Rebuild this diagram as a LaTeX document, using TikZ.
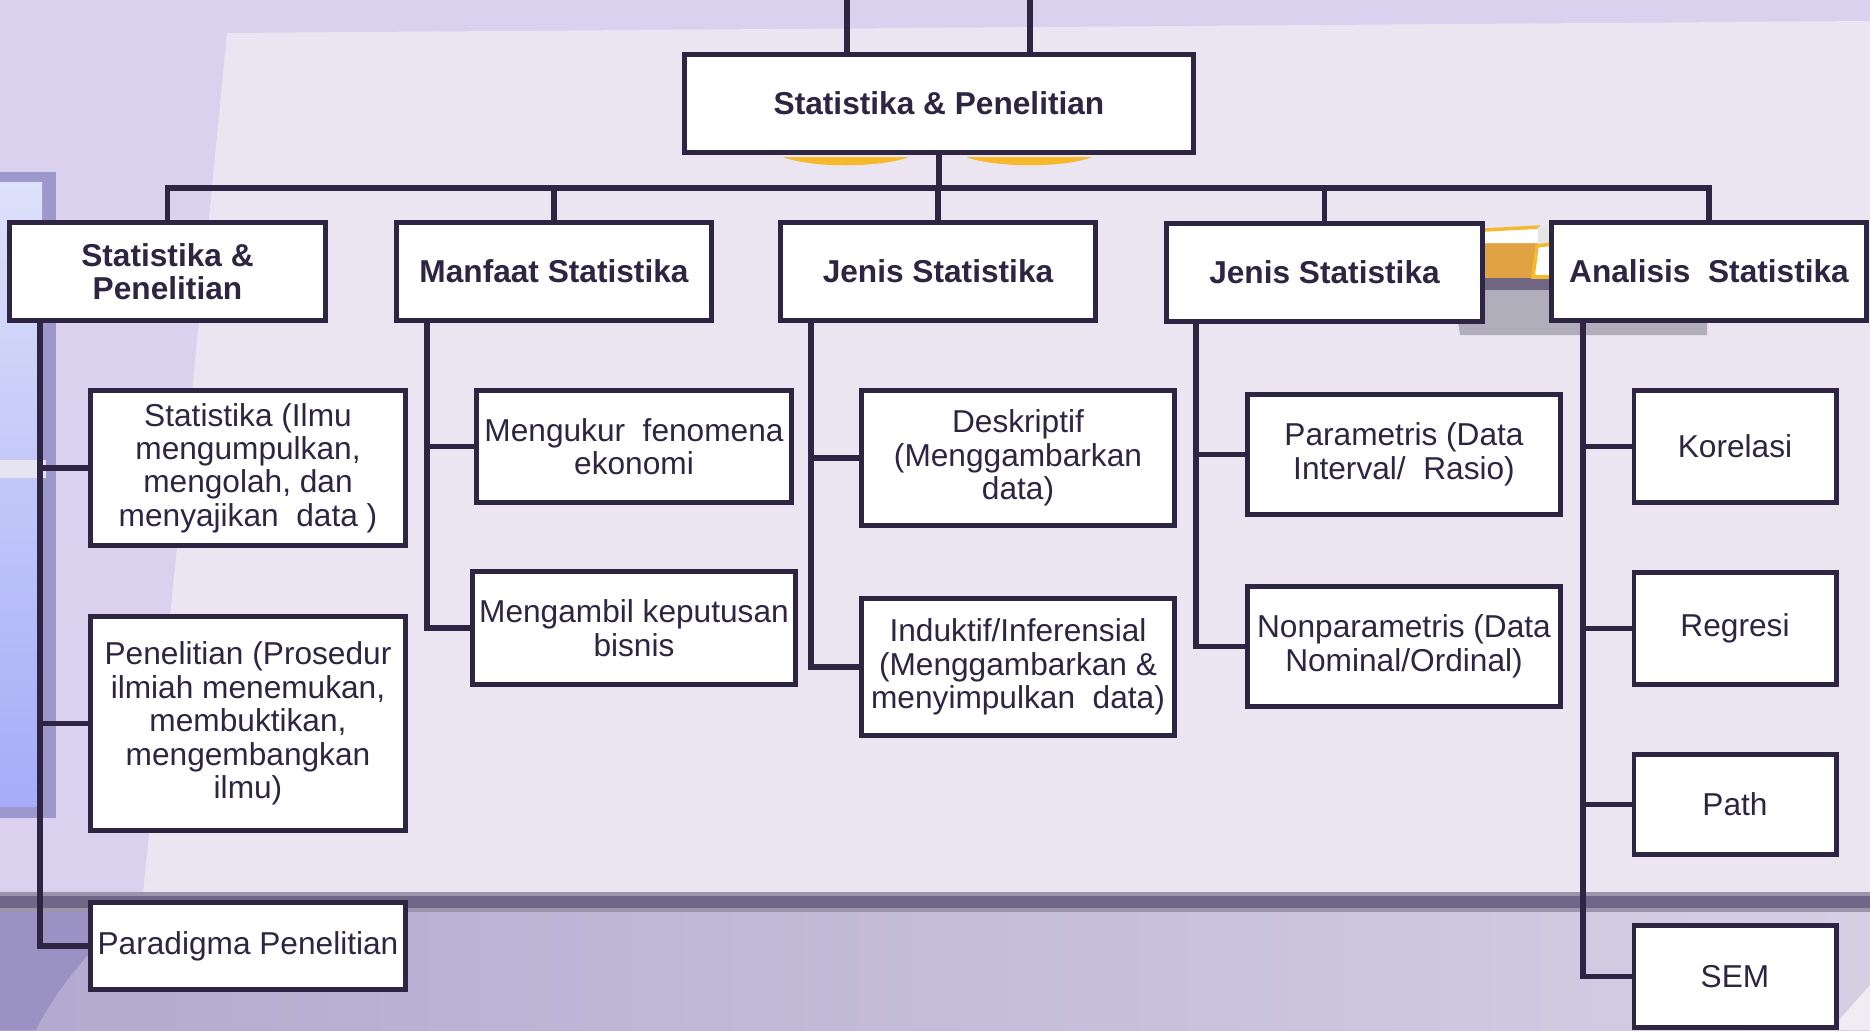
\documentclass[tikz,border=0pt]{standalone}
\usepackage{fontspec}
\setmainfont{Liberation Sans}
\usepackage{xcolor}
\usetikzlibrary{positioning}

\definecolor{bgtop}{HTML}{D9D1EE}
\definecolor{bgmain}{HTML}{EAE5F1}
\definecolor{bandcol}{HTML}{6F6787}
\definecolor{botleft}{HTML}{B2AACE}
\definecolor{botright}{HTML}{D6CFE4}
\definecolor{botdark}{HTML}{9A92C2}
\definecolor{panelout}{HTML}{9C98CC}
\definecolor{paneltop}{HTML}{DDE1FA}
\definecolor{panelbot}{HTML}{A6ACF8}
\definecolor{inkcol}{HTML}{2D2541}
\definecolor{goldcol}{HTML}{F6B92E}
\definecolor{ambercol}{HTML}{E1A244}
\definecolor{shadowcol}{HTML}{B1AEBB}
\definecolor{ledgecol}{HTML}{716681}

\begin{document}
\begin{tikzpicture}[x=0.01cm, y=-0.01cm,
    box/.style={draw=inkcol, line width=1.4pt, fill=white, text=inkcol, align=center, inner sep=2pt, font=\fontsize{9}{9.5}\selectfont},
    head/.style={box, minimum width=3.15cm, minimum height=0.98cm, font=\fontsize{9}{9.5}\selectfont\bfseries},
    link/.style={draw=inkcol, line width=1.6pt}]
    \useasboundingbox (0,0) rectangle (1870,1030);

    % background
    \fill[bgtop] (0,0) rectangle (1870,1030);
    \fill[bgmain] (227,33) -- (1870,21) -- (1870,895) -- (143,895) -- cycle;
    \shade[left color=botleft, right color=botright] (0,907) rectangle (1870,1030);
    \fill[botdark] (0,907) -- (134,907) .. controls (90,950) and (55,990) .. (36,1030) -- (0,1030) -- cycle;
    \fill[white!60!botright] (1870,985) -- (1870,1030) -- (1830,1030) -- cycle;
    \fill[bandcol!70!white] (0,892) rectangle (1870,912);
    \fill[bandcol] (0,896) rectangle (1870,908);

    % left panel
    \fill[panelout] (0,172) rectangle (56,818);
    \shade[top color=paneltop, bottom color=panelbot] (0,182) rectangle (42,806);
    \fill[white!75!panelout] (0,460) rectangle (46,478);

    % gold bits
    \fill[goldcol] (783,157) .. controls (810,168) and (880,168) .. (909,157) -- cycle;
    \fill[goldcol] (966,157) .. controls (995,168) and (1065,168) .. (1092,157) -- cycle;
    \fill[shadowcol] (1453,288) -- (1707,288) -- (1707,335) -- (1460,335) -- cycle;
    \fill[ledgecol] (1485,277) rectangle (1552,290);
    \fill[ambercol] (1485,242) rectangle (1540,278);
    \fill[white] (1485,230) -- (1540,227) -- (1540,243) -- (1485,243) -- cycle;
    \draw[goldcol, line width=1pt] (1485,230) -- (1540,227);
    \fill[gray!20] (1538,227) rectangle (1552,246);
    \filldraw[fill=white, draw=goldcol, line width=1pt] (1537,246) -- (1552,244) -- (1552,277) -- (1533,277) -- cycle;

    % nodes
    \node[box, minimum width=5.09cm, minimum height=0.98cm, font=\fontsize{9}{9.5}\selectfont\bfseries] (top) at (939,103.5) {Statistika \& Penelitian};

    \node[head] (A) at (167.5,271.5) {Statistika \&\\Penelitian};
    \node[head] (B) at (554,271.5) {Manfaat Statistika};
    \node[head] (C) at (938,271.5) {Jenis Statistika};
    \node[head] (D) at (1324.5,272.5) {Jenis Statistika};
    \node[head] (E) at (1709,271.5) {Analisis~ Statistika};

    \node[box, minimum width=3.15cm, minimum height=1.55cm] (A1) at (248,468) {Statistika (Ilmu\\mengumpulkan,\\mengolah, dan\\menyajikan~ data )};
    \node[box, minimum width=3.15cm, minimum height=2.14cm] (A2) at (248,723.5) {Penelitian (Prosedur\\ilmiah menemukan,\\membuktikan,\\mengembangkan\\ilmu)};
    \node[box, minimum width=3.15cm, minimum height=0.87cm] (A3) at (248,946) {Paradigma Penelitian};

    \node[box, minimum width=3.15cm, minimum height=1.12cm] (B1) at (634,446.5) {Mengukur~ fenomena\\ekonomi};
    \node[box, minimum width=3.15cm, minimum height=1.13cm] (B2) at (634,628) {Mengambil keputusan\\bisnis};

    \node[box, minimum width=3.13cm, minimum height=1.35cm] (C1) at (1018,458) {Deskriptif\\(Menggambarkan\\data)};
    \node[box, minimum width=3.13cm, minimum height=1.37cm] (C2) at (1018,667) {Induktif/Inferensial\\(Menggambarkan \&\\menyimpulkan~ data)};

    \node[box, minimum width=3.13cm, minimum height=1.20cm] (D1) at (1404,454.5) {Parametris (Data\\Interval/~ Rasio)};
    \node[box, minimum width=3.13cm, minimum height=1.20cm] (D2) at (1404,646.5) {Nonparametris (Data\\Nominal/Ordinal)};

    \node[box, minimum width=2.02cm, minimum height=1.12cm] (E1) at (1735,446.5) {Korelasi};
    \node[box, minimum width=2.02cm, minimum height=1.12cm] (E2) at (1735,628.5) {Regresi};
    \node[box, minimum width=2.02cm, minimum height=1.00cm] (E3) at (1735,804.5) {Path};
    \node[box, minimum width=2.02cm, minimum height=1.02cm] (E4) at (1735,976.5) {SEM};

    % connectors
    \coordinate (in1) at (847,0);
    \coordinate (in2) at (1030,0);
    \coordinate (bus) at (0,188);
    \coordinate (tA) at (40,0);
    \coordinate (tB) at (427,0);
    \coordinate (tC) at (811,0);
    \coordinate (tD) at (1196,0);
    \coordinate (tE) at (1583,0);

    \draw[link] (in1) -- (in1 |- top.north);
    \draw[link] (in2) -- (in2 |- top.north);
    \draw[link] (top.south) -- (top.south |- bus);
    \draw[link] (A.north) -- (A.north |- bus) -- (E.north |- bus) -- (E.north);
    \draw[link] (B.north) -- (B.north |- bus);
    \draw[link] (C.north) -- (C.north |- bus);
    \draw[link] (D.north) -- (D.north |- bus);

    \draw[link] (tA |- A.south) |- (A1.west);
    \draw[link] (tA |- A.south) |- (A2.west);
    \draw[link] (tA |- A.south) |- (A3.west);
    \draw[link] (tB |- B.south) |- (B1.west);
    \draw[link] (tB |- B.south) |- (B2.west);
    \draw[link] (tC |- C.south) |- (C1.west);
    \draw[link] (tC |- C.south) |- (C2.west);
    \draw[link] (tD |- D.south) |- (D1.west);
    \draw[link] (tD |- D.south) |- (D2.west);
    \draw[link] (tE |- E.south) |- (E1.west);
    \draw[link] (tE |- E.south) |- (E2.west);
    \draw[link] (tE |- E.south) |- (E3.west);
    \draw[link] (tE |- E.south) |- (E4.west);
\end{tikzpicture}
\end{document}
